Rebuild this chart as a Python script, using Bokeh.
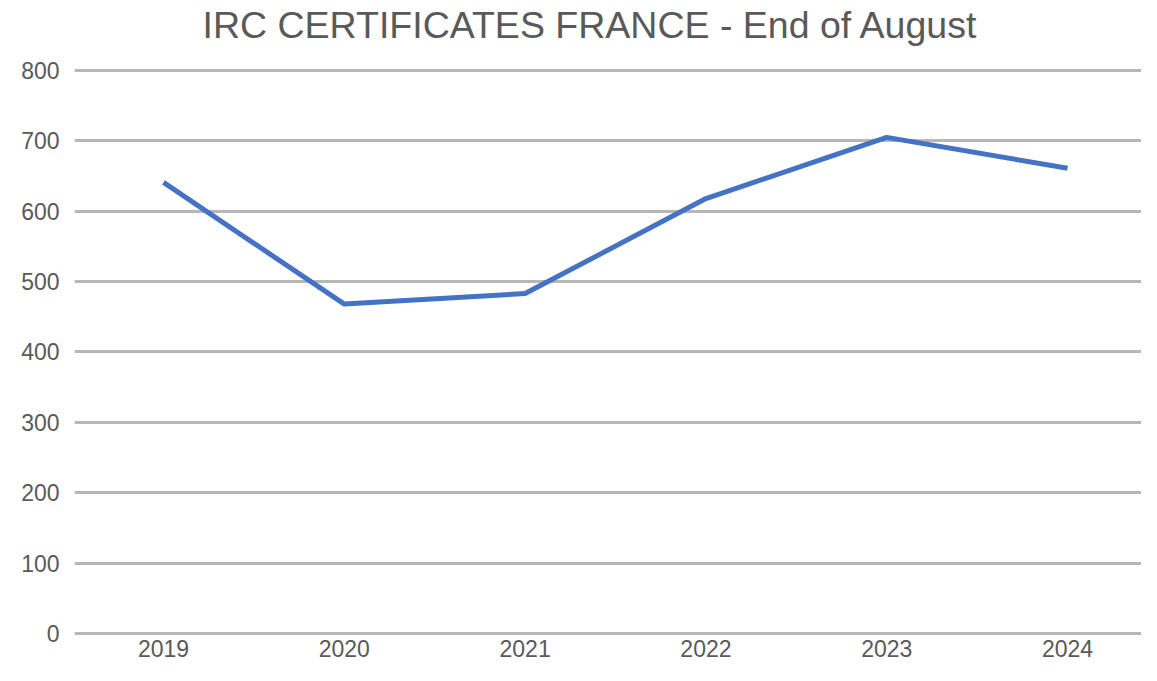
from bokeh.plotting import figure
from bokeh.models import Range1d, FixedTicker, Label
from bokeh.embed import file_html
from bokeh.resources import INLINE

# Data
years = ["2019", "2020", "2021", "2022", "2023", "2024"]
certificates = [641, 468, 483, 618, 705, 661]
y_ticks = [0, 100, 200, 300, 400, 500, 600, 700, 800]
title_text = "IRC CERTIFICATES FRANCE - End of August"

xs = list(range(len(years)))

W, H = 1141, 665
BL, BB = 74, 30

p = figure(
    width=W, height=H,
    output_backend="svg", toolbar_location=None,
    x_range=Range1d(-0.4923, 5.409),
    y_range=Range1d(-3, 899.5),
    min_border_left=BL, min_border_right=0,
    min_border_top=0, min_border_bottom=BB,
)

p.outline_line_color = None
p.background_fill_color = "white"
p.border_fill_color = "white"

p.line(xs, certificates, line_color="#4472C4", line_width=5)

# title as a label in the (extended) frame, screen units
title = Label(
    x=128, y=611,
    x_units="screen", y_units="screen",
    text=title_text,
    text_font="Liberation Sans", text_font_size="37.5px",
    text_color="#595959", text_align="left", text_baseline="alphabetic",
)
p.add_layout(title)

# axes
p.xaxis.ticker = FixedTicker(ticks=xs)
p.xaxis.major_label_overrides = {i: y for i, y in enumerate(years)}
p.yaxis.ticker = FixedTicker(ticks=y_ticks)
for ax in (p.xaxis[0], p.yaxis[0]):
    ax.axis_line_color = None
    ax.major_tick_line_color = None
    ax.minor_tick_line_color = None
    ax.major_tick_out = 0
    ax.major_tick_in = 0
    ax.minor_tick_out = 0
    ax.minor_tick_in = 0
    ax.major_label_text_font = "Liberation Sans"
    ax.major_label_text_font_size = "23px"
    ax.major_label_text_color = "#595959"
p.xaxis.major_label_standoff = 4
p.yaxis.major_label_standoff = 15

p.xgrid.grid_line_color = None
p.ygrid.grid_line_color = "#b7b7b7"
p.ygrid.grid_line_width = 3

open("out.html", "w").write(file_html(p, INLINE))
